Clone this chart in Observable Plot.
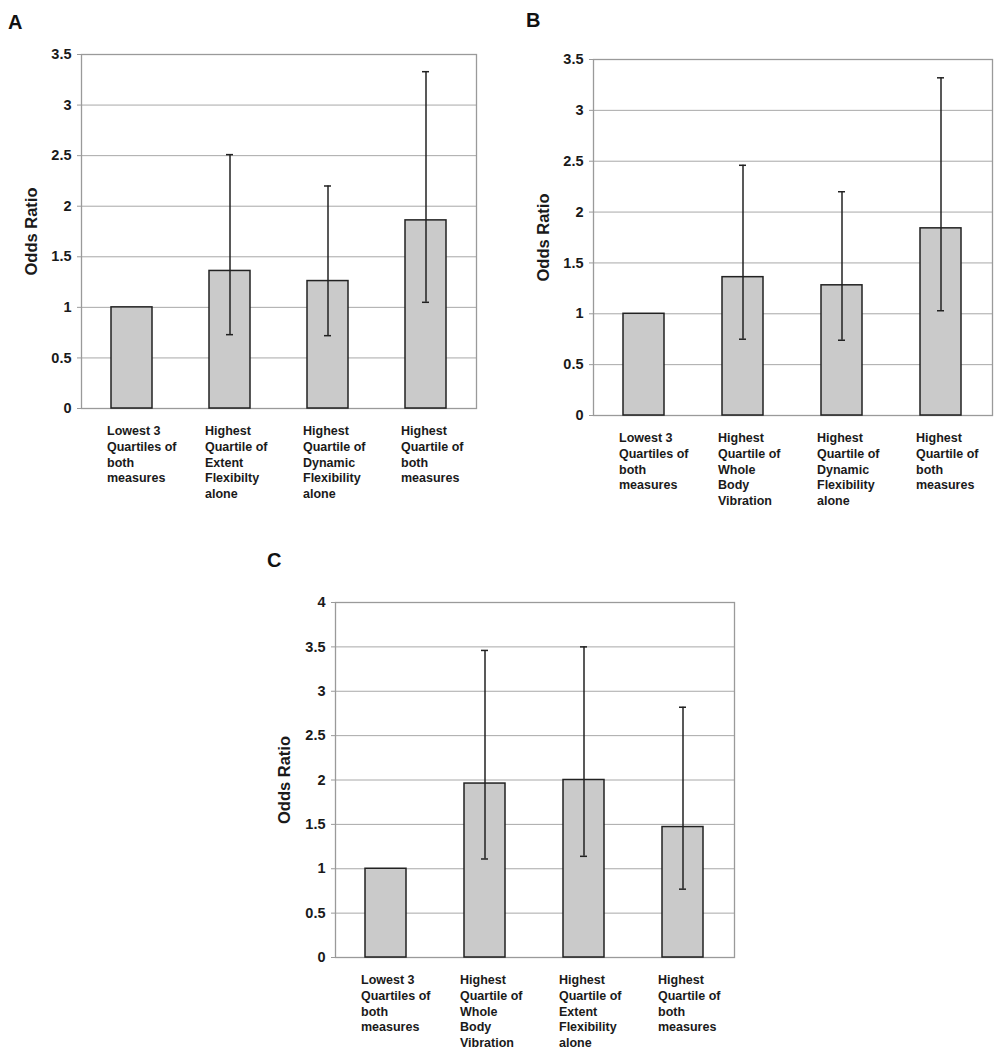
<!DOCTYPE html>
<html>
<head>
<meta charset="utf-8">
<script src="https://cdn.jsdelivr.net/npm/d3@7"></script>
<script src="https://cdn.jsdelivr.net/npm/@observablehq/plot@0.6"></script>
<style>
  html, body { margin: 0; padding: 0; background: #fff; }
  #root { position: relative; width: 999px; height: 1050px; background: #fff; font-family: "Liberation Sans", Arial, sans-serif; }
  .panel { position: absolute; z-index: 1; }
  .letter { position: absolute; z-index: 2; font-size: 20px; line-height: 20px; font-weight: bold; color: #111; }
</style>
</head>
<body>
<div id="root">
  <div class="panel" id="pA" style="left:0px;top:0px;"></div>
  <div class="panel" id="pB" style="left:500px;top:0px;"></div>
  <div class="panel" id="pC" style="left:250px;top:540px;"></div>
  <div class="letter" style="left:8px;top:12px;">A</div>
  <div class="letter" style="left:526px;top:10px;">B</div>
  <div class="letter" style="left:267px;top:550px;">C</div>
</div>
<script>
// ---- Data ----
const catsA = [
  "Lowest 3\nQuartiles of\nboth\nmeasures",
  "Highest\nQuartile of\nExtent\nFlexibilty\nalone",
  "Highest\nQuartile of\nDynamic\nFlexibility\nalone",
  "Highest\nQuartile of\nboth\nmeasures"
];
const oddsA = [1.0, 1.36, 1.26, 1.86];
const lowA  = [null, 0.73, 0.72, 1.05];
const highA = [null, 2.51, 2.20, 3.33];

const catsB = [
  "Lowest 3\nQuartiles of\nboth\nmeasures",
  "Highest\nQuartile of\nWhole\nBody\nVibration",
  "Highest\nQuartile of\nDynamic\nFlexibility\nalone",
  "Highest\nQuartile of\nboth\nmeasures"
];
const oddsB = [1.0, 1.36, 1.28, 1.84];
const lowB  = [null, 0.75, 0.74, 1.03];
const highB = [null, 2.46, 2.20, 3.32];

const catsC = [
  "Lowest 3\nQuartiles of\nboth\nmeasures",
  "Highest\nQuartile of\nWhole\nBody\nVibration",
  "Highest\nQuartile of\nExtent\nFlexibility\nalone",
  "Highest\nQuartile of\nboth\nmeasures"
];
const oddsC = [1.0, 1.96, 2.0, 1.47];
const lowC  = [null, 1.11, 1.14, 0.77];
const highC = [null, 3.46, 3.50, 2.82];

const yTicksAB = [0, 0.5, 1, 1.5, 2, 2.5, 3, 3.5];
const yTicksC  = [0, 0.5, 1, 1.5, 2, 2.5, 3, 3.5, 4];
const yLabel = "Odds Ratio";

// ---- Drawing ----
function panel({cats, odds, low, high, yTicks, width, height, mL, mR, mT, mB, labelDx}) {
  const data = cats.map((c, i) => ({cat: c, or: odds[i], lo: low[i], hi: high[i]}));
  const err = data.filter(d => d.lo != null);
  const ink = "#1a1a1a";
  const gridC = "#a8a8a8";
  return Plot.plot({
    width, height,
    marginLeft: mL, marginRight: mR, marginTop: mT, marginBottom: mB,
    style: {fontFamily: "'Liberation Sans', Arial, sans-serif", background: "transparent", color: ink, overflow: "visible"},
    x: {domain: cats, paddingInner: 0.585, paddingOuter: 0.2925, axis: null},
    y: {domain: [yTicks[0], yTicks[yTicks.length - 1]], axis: null},
    marks: [
      Plot.gridY(yTicks, {stroke: gridC, strokeOpacity: 1, strokeWidth: 1}),
      Plot.frame({stroke: "#9a9a9a", strokeWidth: 1.3}),
      Plot.axisY({ticks: yTicks, tickFormat: d => String(d), tickSize: 4, tickPadding: 6,
                  stroke: "#9a9a9a", fill: ink, fontSize: 14.5, fontWeight: "bold", label: null}),
      Plot.axisX({tickSize: 0, tickPadding: 15, textAnchor: "start", dx: -25, fill: ink,
                  fontSize: 12.5, fontWeight: "bold", lineHeight: 1.27, label: null}),
      Plot.barY(data, {x: "cat", y: "or", fill: "#cacaca", stroke: "#222", strokeWidth: 1.5}),
      Plot.ruleX(err, {x: "cat", y1: "lo", y2: "hi", stroke: "#222", strokeWidth: 1.5}),
      Plot.tickY(err, {x: "cat", y: "lo", insetLeft: 17, insetRight: 17, stroke: "#222", strokeWidth: 1.5}),
      Plot.tickY(err, {x: "cat", y: "hi", insetLeft: 17, insetRight: 17, stroke: "#222", strokeWidth: 1.5}),
      Plot.text([yLabel], {frameAnchor: "left", rotate: -90, dx: labelDx, textAnchor: "middle",
                           fontSize: 16.5, fontWeight: "bold", fill: ink})
    ]
  });
}

document.getElementById("pA").append(panel({
  cats: catsA, odds: oddsA, low: lowA, high: highA, yTicks: yTicksAB,
  width: 500, height: 520, mL: 81, mR: 24, mT: 54, mB: 112, labelDx: -50
}));
document.getElementById("pB").append(panel({
  cats: catsB, odds: oddsB, low: lowB, high: highB, yTicks: yTicksAB,
  width: 499, height: 520, mL: 93, mR: 7, mT: 59, mB: 105, labelDx: -50
}));
document.getElementById("pC").append(panel({
  cats: catsC, odds: oddsC, low: lowC, high: highC, yTicks: yTicksC,
  width: 530, height: 510, mL: 85, mR: 46, mT: 62, mB: 93, labelDx: -51
}));
</script>
</body>
</html>
